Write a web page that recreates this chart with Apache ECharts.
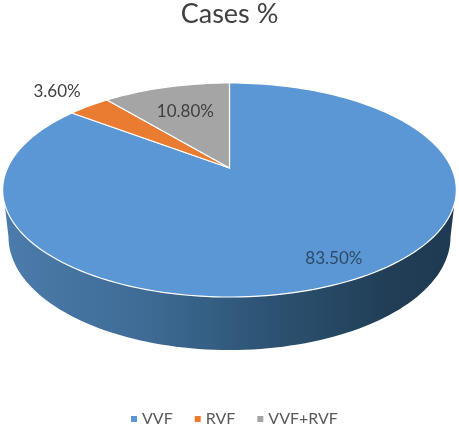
<!DOCTYPE html>
<html>
<head>
<meta charset="utf-8">
<style>
  html, body { margin: 0; padding: 0; background: #fff; }
  #chart { width: 459px; height: 428px; }
</style>
</head>
<body>
<div id="chart"></div>
<script src="https://cdn.jsdelivr.net/npm/echarts@6/dist/echarts.min.js"></script>
<script>
var categories = ["VVF", "RVF", "VVF+RVF"];
var values = [83.5, 3.6, 10.8];
var labels = ["83.50%", "3.60%", "10.80%"];
var colors = ["#5a97d4", "#e97c30", "#a5a5a5"];

var total = values.reduce(function (a, b) { return a + b; }, 0);

// tilted disc seen in perspective: circle centre lands above the ellipse centre
var apexX = 229.5, apexY = 168;
var discA = 222, discB = 102.5, discK = -0.2056;
// radius and nudge for each data label, as fraction of disc radius
var labelRadius = [0.84, 1.267, 0.66];
var labelNudge = [[6, -1], [0, 0], [0, 0]];

function project(fraction, r) {
  var a = fraction * 2 * Math.PI;
  var u = r * Math.sin(a);
  var v = -r * Math.cos(a);
  var w = 1 + discK * v;
  return [apexX + discA * u / w, apexY + discB * v / w];
}

function slicePoints(from, to) {
  var pts = [[apexX, apexY]];
  var steps = Math.max(2, Math.ceil((to - from) * 200));
  for (var i = 0; i <= steps; i++) {
    pts.push(project(from + (to - from) * i / steps, 1));
  }
  return pts;
}

// side wall: front half of the rim down to a slightly narrower bottom ellipse
function wallPoints() {
  var pts = [];
  var i;
  for (i = 0; i <= 90; i++) {
    var t = Math.PI - Math.PI * i / 90;
    pts.push([229.5 + 226.5 * Math.cos(t), 190 + 107 * Math.sin(t)]);
  }
  for (i = 0; i <= 90; i++) {
    var s = Math.PI * i / 90;
    pts.push([229.5 + 221 * Math.cos(s), 237 + 113 * Math.sin(s)]);
  }
  return pts;
}

function makeSeries(idx) {
  var before = 0;
  for (var i = 0; i < idx; i++) before += values[i];
  return {
    type: "custom",
    name: categories[idx],
    coordinateSystem: "none",
    itemStyle: { color: colors[idx] },
    silent: true,
    data: [[values[idx]]],
    renderItem: function (params, api) {
      var from = before / total;
      var to = (before + api.value(0)) / total;
      var children = [];
      if (idx === 0) {
        children.push({
          type: "polygon",
          shape: { points: wallPoints() },
          style: {
            fill: new echarts.graphic.LinearGradient(0, 0, 1, 0, [
              { offset: 0, color: "#4c7cab" },
              { offset: 0.3, color: "#3f6c97" },
              { offset: 0.55, color: "#2e5677" },
              { offset: 0.85, color: "#213e56" },
              { offset: 1, color: "#1e3a52" }
            ])
          }
        });
      }
      children.push({
        type: "polygon",
        shape: { points: slicePoints(from, to) },
        style: { fill: colors[idx], stroke: "#fff", lineWidth: 1.2 }
      });
      var p = project((from + to) / 2, labelRadius[idx]);
      children.push({
        type: "text",
        z2: 10,
        style: {
          x: p[0] + labelNudge[idx][0],
          y: p[1] + labelNudge[idx][1],
          text: labels[idx],
          fill: idx === 0 ? "#2f4a68" : "#404040",
          font: "17px Lato",
          align: "center",
          verticalAlign: "middle"
        }
      });
      return { type: "group", children: children };
    }
  };
}

var myChart = echarts.init(document.getElementById("chart"));
var option = {
  animation: false,
  backgroundColor: "#fff",
  title: {
    text: "Cases %",
    left: "center",
    top: -4,
    textStyle: { fontFamily: "Lato", fontWeight: "normal", fontSize: 27, color: "#404040" }
  },
  legend: {
    data: categories,
    top: 406,
    left: 126,
    icon: "rect",
    itemWidth: 6,
    itemHeight: 6,
    itemGap: 22,
    selectedMode: false,
    textStyle: { fontFamily: "Lato", fontSize: 16, color: "#595959" }
  },
  series: categories.map(function (c, i) { return makeSeries(i); })
};
myChart.setOption(option);
</script>
</body>
</html>
